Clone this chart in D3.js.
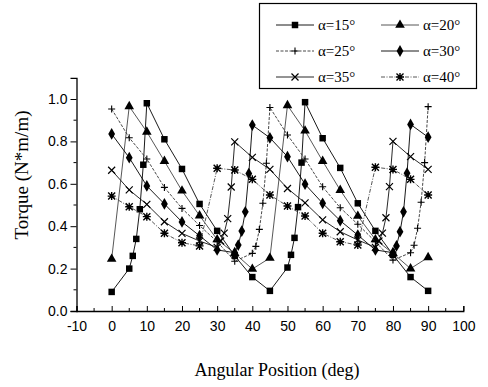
<!DOCTYPE html>
<html>
<head>
<meta charset="utf-8">
<script src="https://cdn.jsdelivr.net/npm/d3@7"></script>
<style>
  body { margin: 0; background: #fff; }
  svg { display: block; }
</style>
</head>
<body>
<div class="chart"></div>
<script>
// angular positions (deg) and torque values (N*m/m)
const angles15 = [0, 5, 6, 7, 8, 9, 10, 15, 20, 25, 30, 35, 40, 45, 50, 51, 52, 53, 54, 55, 60, 65, 70, 75, 80, 85, 90];
const torque15 = [0.09, 0.20, 0.26, 0.34, 0.48, 0.69, 0.98, 0.81, 0.67, 0.505, 0.378, 0.26, 0.16, 0.095, 0.205, 0.265, 0.345, 0.49, 0.70, 0.985, 0.815, 0.675, 0.508, 0.378, 0.265, 0.16, 0.095];

const angles20 = [0, 5, 10, 15, 20, 25, 30, 35, 40, 45, 50, 55, 60, 65, 70, 75, 80, 85, 90];
const torque20 = [0.245, 0.965, 0.845, 0.707, 0.567, 0.45, 0.337, 0.272, 0.198, 0.25, 0.97, 0.85, 0.707, 0.57, 0.448, 0.337, 0.272, 0.2, 0.253];

const angles25 = [0, 5, 10, 15, 20, 25, 30, 35, 40, 41, 42, 43, 44, 45, 50, 55, 60, 65, 70, 75, 80, 85, 86, 87, 88, 89, 90];
const torque25 = [0.953, 0.817, 0.717, 0.583, 0.484, 0.403, 0.327, 0.235, 0.272, 0.305, 0.385, 0.508, 0.697, 0.96, 0.83, 0.717, 0.586, 0.487, 0.409, 0.327, 0.24, 0.275, 0.31, 0.39, 0.513, 0.70, 0.964];

const angles30 = [0, 5, 10, 15, 20, 25, 30, 35, 36, 37, 38, 39, 40, 45, 50, 55, 60, 65, 70, 75, 80, 81, 82, 83, 84, 85, 90];
const torque30 = [0.835, 0.723, 0.59, 0.505, 0.42, 0.355, 0.288, 0.275, 0.311, 0.377, 0.468, 0.648, 0.877, 0.817, 0.728, 0.598, 0.508, 0.426, 0.358, 0.288, 0.275, 0.307, 0.374, 0.468, 0.65, 0.88, 0.82];

const angles35 = [0, 5, 10, 15, 20, 25, 30, 31, 32, 33, 34, 35, 40, 45, 50, 55, 60, 65, 70, 75, 76, 77, 78, 79, 80, 85, 90];
const torque35 = [0.664, 0.571, 0.503, 0.421, 0.366, 0.33, 0.30, 0.33, 0.367, 0.436, 0.585, 0.798, 0.725, 0.668, 0.578, 0.51, 0.43, 0.374, 0.335, 0.30, 0.33, 0.367, 0.44, 0.587, 0.80, 0.728, 0.668];

const angles40 = [0, 5, 10, 15, 20, 25, 30, 35, 40, 45, 50, 55, 60, 65, 70, 75, 80, 85, 90];
const torque40 = [0.542, 0.492, 0.445, 0.367, 0.322, 0.307, 0.673, 0.665, 0.621, 0.547, 0.495, 0.448, 0.367, 0.327, 0.311, 0.678, 0.668, 0.621, 0.547];

const seriesNames = ['α=15°', 'α=20°', 'α=25°', 'α=30°', 'α=35°', 'α=40°'];
const xTicks = [-10, 0, 10, 20, 30, 40, 50, 60, 70, 80, 90, 100];
const yTicks = [0.0, 0.2, 0.4, 0.6, 0.8, 1.0];

const w = 488, h = 387;

const svg = d3.select('.chart').append('svg')
  .attr('width', w)
  .attr('height', h);

const x = d3.scaleLinear().domain([-10, 100]).range([76.5, 463.3]);
const y = d3.scaleLinear().domain([0, 1.1]).range([311, 77.8]);

// marker shapes
const sym = {
  square: d3.symbol().type(d3.symbolSquare).size(42),
  triangle: d3.symbol().type(d3.symbolTriangle).size(40),
  diamond: d3.symbol().type(d3.symbolDiamond).size(40)
};

function drawMarker(g, kind, cx, cy) {
  if (kind === 'square' || kind === 'triangle' || kind === 'diamond') {
    g.append('path')
      .attr('d', sym[kind]())
      .attr('transform', `translate(${cx},${cy})`)
      .attr('fill', '#000');
  } else if (kind === 'plus') {
    g.append('path')
      .attr('d', `M${cx - 3.5},${cy}H${cx + 3.5}M${cx},${cy - 3.5}V${cy + 3.5}`)
      .attr('stroke', '#000')
      .attr('stroke-width', 1.1)
      .attr('fill', 'none');
  } else if (kind === 'cross') {
    g.append('path')
      .attr('d', `M${cx - 3.5},${cy - 3.5}L${cx + 3.5},${cy + 3.5}M${cx - 3.5},${cy + 3.5}L${cx + 3.5},${cy - 3.5}`)
      .attr('stroke', '#000')
      .attr('stroke-width', 1.2)
      .attr('fill', 'none');
  } else if (kind === 'star') {
    g.append('path')
      .attr('d', `M${cx - 3.5},${cy - 3.5}L${cx + 3.5},${cy + 3.5}M${cx - 3.5},${cy + 3.5}L${cx + 3.5},${cy - 3.5}` +
        `M${cx - 4},${cy}H${cx + 4}M${cx},${cy - 4}V${cy + 4}`)
      .attr('stroke', '#000')
      .attr('stroke-width', 1.4)
      .attr('fill', 'none');
  }
}

const series = [
  { name: seriesNames[0], xs: angles15, ys: torque15, marker: 'square', stroke: '#000', dash: null },
  { name: seriesNames[1], xs: angles20, ys: torque20, marker: 'triangle', stroke: '#444', dash: null },
  { name: seriesNames[2], xs: angles25, ys: torque25, marker: 'plus', stroke: '#333', dash: '3,1.5' },
  { name: seriesNames[3], xs: angles30, ys: torque30, marker: 'diamond', stroke: '#000', dash: null },
  { name: seriesNames[4], xs: angles35, ys: torque35, marker: 'cross', stroke: '#111', dash: null },
  { name: seriesNames[5], xs: angles40, ys: torque40, marker: 'star', stroke: '#444', dash: '4,1.5,1,1.5' }
];

const line = d3.line()
  .x(d => x(d[0]))
  .y(d => y(d[1]));

const plot = svg.append('g');

series.forEach(s => {
  const pts = s.xs.map((a, i) => [a, s.ys[i]]);
  plot.append('path')
    .attr('d', line(pts))
    .attr('fill', 'none')
    .attr('stroke', s.stroke)
    .attr('stroke-width', 0.9)
    .attr('stroke-dasharray', s.dash);
  pts.forEach(p => drawMarker(plot, s.marker, x(p[0]), y(p[1])));
});

// axes
const tickFont = '"Liberation Sans", Arial, sans-serif';

const xAxis = svg.append('g')
  .attr('transform', `translate(0,${y(0)})`)
  .call(d3.axisBottom(x).tickValues(xTicks).tickSize(-5).tickPadding(10).tickFormat(d => String(d)));
xAxis.append('g')
  .selectAll('line')
  .data(d3.range(-5, 100, 10))
  .enter().append('line')
  .attr('x1', d => x(d)).attr('x2', d => x(d))
  .attr('y1', 0).attr('y2', -3)
  .attr('stroke', '#000');

const yAxis = svg.append('g')
  .attr('transform', `translate(${x(-10)},0)`)
  .call(d3.axisLeft(y).tickValues(yTicks).tickSize(6).tickPadding(3).tickFormat(d => d.toFixed(1)));
yAxis.append('g')
  .selectAll('line')
  .data([0.1, 0.3, 0.5, 0.7, 0.9])
  .enter().append('line')
  .attr('x1', 0).attr('x2', -3)
  .attr('y1', d => y(d)).attr('y2', d => y(d))
  .attr('stroke', '#000');

[xAxis, yAxis].forEach(a => {
  a.select('.domain').attr('stroke', '#000').attr('stroke-width', 1.3);
  a.selectAll('.tick line').attr('stroke', '#000').attr('stroke-width', 1);
  a.selectAll('.tick text')
    .attr('fill', '#000')
    .style('font-family', tickFont)
    .style('font-size', '14px');
});

// axis titles
svg.append('text')
  .attr('x', 277)
  .attr('y', 376)
  .attr('text-anchor', 'middle')
  .style('font-family', '"Liberation Serif", "Times New Roman", serif')
  .style('font-size', '18px')
  .text('Angular Position (deg)');

svg.append('text')
  .attr('transform', 'translate(28,175) rotate(-90)')
  .attr('text-anchor', 'middle')
  .style('font-family', '"Liberation Serif", "Times New Roman", serif')
  .style('font-size', '19px')
  .text('Torque (N*m/m)');

// legend
const legend = svg.append('g');
legend.append('rect')
  .attr('x', 259.5).attr('y', 3.5)
  .attr('width', 217).attr('height', 85)
  .attr('fill', '#fff')
  .attr('stroke', '#000')
  .attr('stroke-width', 1.2);

series.forEach((s, i) => {
  const col = i % 2, row = Math.floor(i / 2);
  const lx = col === 0 ? 276 : 381;
  const ly = 25 + row * 26;
  legend.append('line')
    .attr('x1', lx).attr('x2', lx + 38)
    .attr('y1', ly).attr('y2', ly)
    .attr('stroke', s.stroke)
    .attr('stroke-width', 0.9)
    .attr('stroke-dasharray', s.dash);
  drawMarker(legend, s.marker, lx + 19, ly);
  legend.append('text')
    .attr('x', lx + 42)
    .attr('y', ly + 5)
    .style('font-family', '"Liberation Serif", "Times New Roman", serif')
    .style('font-size', '15px')
    .text(s.name);
});
</script>
</body>
</html>
